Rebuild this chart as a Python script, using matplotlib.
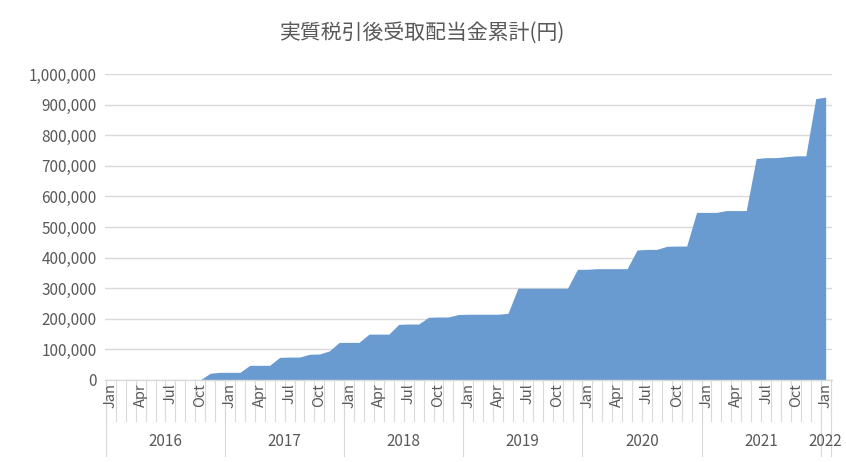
import matplotlib
matplotlib.use("Agg")
import matplotlib.pyplot as plt
import matplotlib.transforms as mtrans
from matplotlib.lines import Line2D
import numpy as np

plt.rcParams['font.family'] = ['Noto Sans CJK JP', 'DejaVu Sans']

years = ["2016", "2017", "2018", "2019", "2020", "2021", "2022"]
months_per_year = [12, 12, 12, 12, 12, 12, 1]
month_names = ["Jan", "Feb", "Mar", "Apr", "May", "Jun", "Jul", "Aug", "Sep", "Oct", "Nov", "Dec"]
values = [
    0, 0, 0, 0, 0, 0, 0, 0, 0, 0, 22000, 25000,
    25000, 25000, 48000, 48000, 48000, 74000, 75000, 75000, 84000, 85000, 95000, 123000,
    123000, 123000, 150000, 150000, 150000, 182000, 183000, 183000, 205000, 206000, 206000, 214000,
    215000, 215000, 215000, 215000, 218000, 300000, 300000, 300000, 300000, 300000, 300000, 362000,
    362000, 364000, 364000, 364000, 364000, 425000, 427000, 427000, 437000, 438000, 438000, 548000,
    548000, 548000, 554000, 554000, 554000, 724000, 727000, 727000, 730000, 733000, 733000, 920000,
    925000,
]

labels = []
for y, n in zip(years, months_per_year):
    labels += month_names[:n]
x = np.arange(len(values))

fig = plt.figure(figsize=(8.46, 4.62), dpi=100)
ax = fig.add_axes([0.124, 0.1775, 0.859, 0.662])
ax.fill_between(x, values, 0, color="#6a9bd0", linewidth=0)
ax.set_xlim(-0.6, len(values) - 0.4)
ax.set_ylim(0, 1000000)
ax.set_yticks(np.arange(0, 1000001, 100000))
ax.set_yticklabels([f"{v:,}" for v in range(0, 1000001, 100000)], fontsize=11, color="#595959")
ax.grid(axis="y", color="#d9d9d9", linewidth=1)
ax.set_axisbelow(True)
for s in ax.spines.values():
    s.set_visible(False)
ax.tick_params(axis="y", length=0, pad=6)
ax.tick_params(axis="x", length=0)
ax.set_xticks([])

tr = mtrans.blended_transform_factory(ax.transData, ax.transAxes)
gc = "#d9d9d9"
ax.add_line(Line2D([-0.6, len(values) - 0.4], [0, 0], transform=tr, color=gc, lw=1, clip_on=False))
for i in range(len(values) + 1):
    ax.add_line(Line2D([i - 0.5, i - 0.5], [0, -0.135], transform=tr, color=gc, lw=0.8, clip_on=False))
for i, lab in enumerate(labels):
    if lab in ("Jan", "Apr", "Jul", "Oct"):
        ax.text(i, -0.01, lab, transform=tr, rotation=90, ha="center", va="top",
                fontsize=10.5, color="#595959")
start = 0
for y, n in zip(years, months_per_year):
    ax.add_line(Line2D([start - 0.5, start - 0.5], [0, -0.25], transform=tr, color=gc, lw=0.8, clip_on=False))
    ax.text(start + n / 2 - 0.5, -0.2, y, transform=tr, ha="center", va="center",
            fontsize=11, color="#595959")
    start += n
ax.add_line(Line2D([start - 0.5, start - 0.5], [0, -0.25], transform=tr, color=gc, lw=0.8, clip_on=False))

fig.text(0.5, 0.93, "実質税引後受取配当金累計(円)", ha="center", va="center", fontsize=15, color="#595959")
fig.savefig("out.png", dpi=100)
